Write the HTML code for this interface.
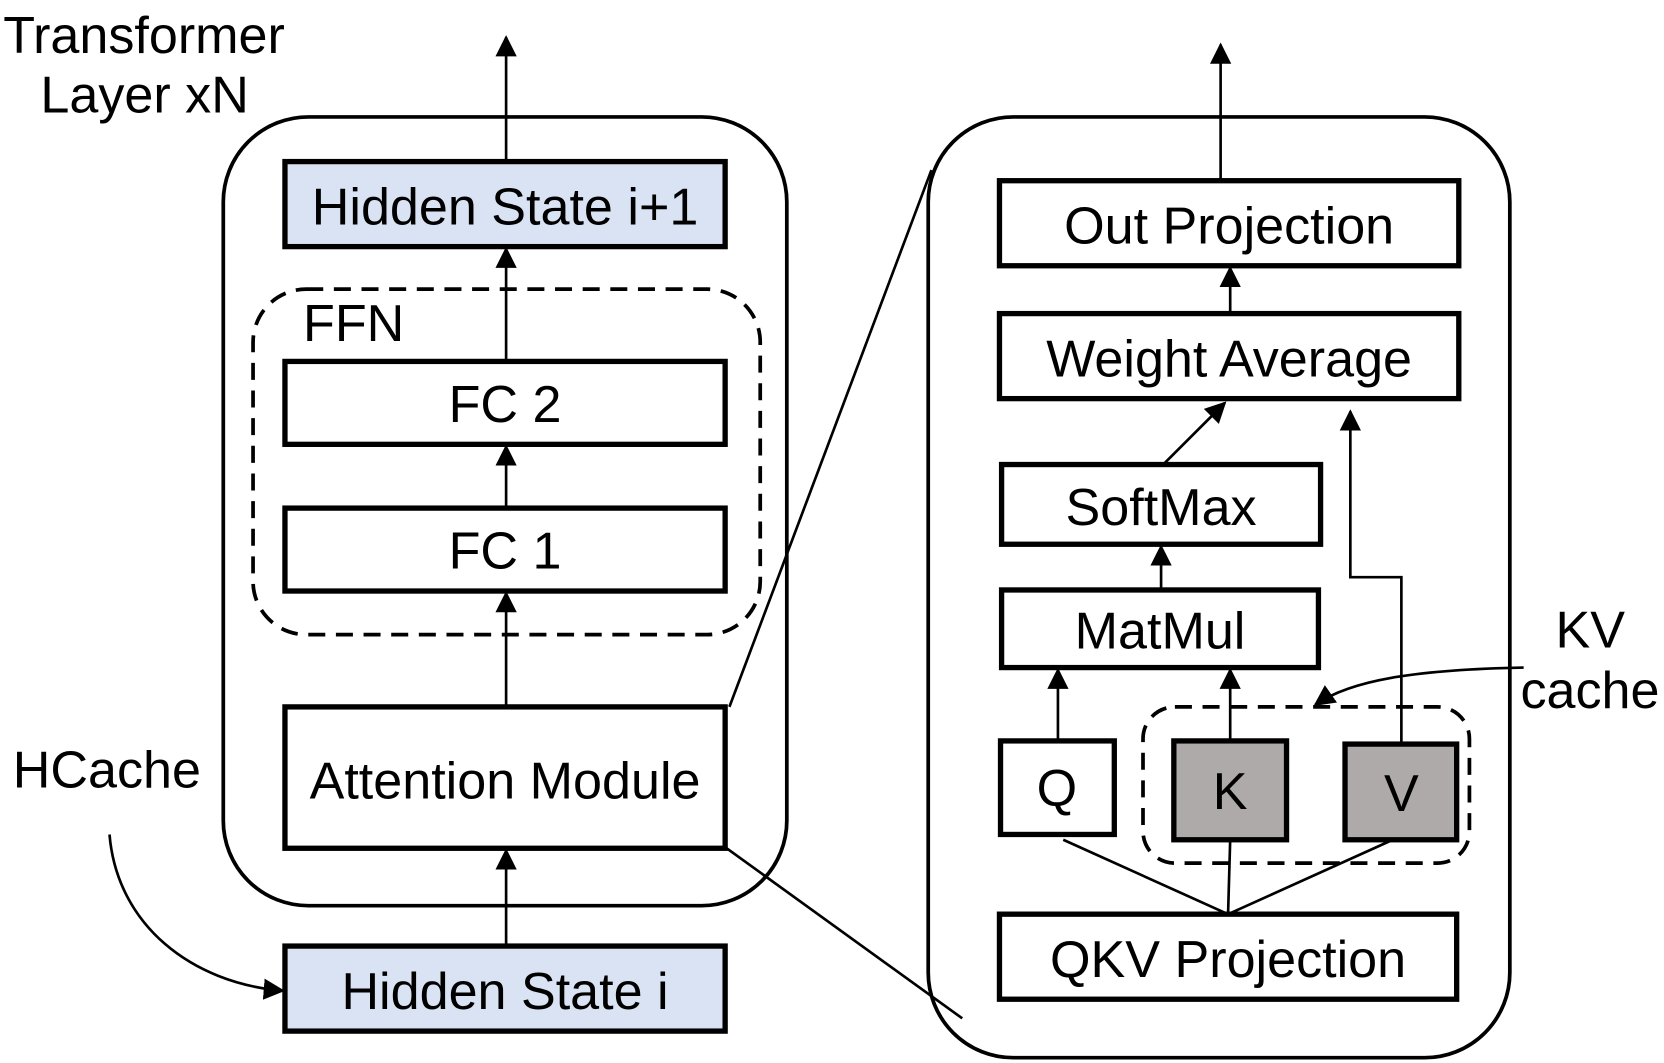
<!DOCTYPE html>
<html><head><style>html,body{margin:0;padding:0;background:#fff}svg{display:block}
text{font-family:"Liberation Sans",Arial,sans-serif}</style></head>
<body>
<svg width="1664" height="1063" viewBox="0 0 1565 1000" preserveAspectRatio="none" xmlns="http://www.w3.org/2000/svg">
<defs>
<marker id="a" markerWidth="20" markerHeight="24" refX="18" refY="10" orient="auto" markerUnits="userSpaceOnUse" viewBox="0 0 20 20"><path d="M0,0 L20,10 L0,20 z" fill="#000"/></marker>
</defs>
<style>
.b{fill:#fff;stroke:#000;stroke-width:5}
.bl{fill:#dae3f3;stroke:#000;stroke-width:5}
.g{fill:#aeaaaa;stroke:#000;stroke-width:5}
.l{stroke:#000;stroke-width:2.5;fill:none}
.t{font-size:49px;text-anchor:middle}
</style>
<text x="3" y="50" font-size="49">Transformer</text>
<text x="38" y="106" font-size="49">Layer xN</text>
<text x="12" y="741" font-size="49">HCache</text>
<text x="1463" y="609" font-size="49">KV</text>
<text x="1430" y="666" font-size="49">cache</text>

<rect x="210" y="110" width="530" height="742" rx="80" fill="none" stroke="#000" stroke-width="3.5"/>
<rect x="873" y="110" width="547" height="885" rx="80" fill="none" stroke="#000" stroke-width="3.5"/>
<rect x="238" y="272" width="477" height="325" rx="50" fill="none" stroke="#000" stroke-width="3.5" stroke-dasharray="16,10"/>
<rect x="1075" y="665" width="307" height="147" rx="30" fill="none" stroke="#000" stroke-width="3.5" stroke-dasharray="16,10"/>
<text x="285" y="321" font-size="49">FFN</text>

<g class="l">
<path d="M476 152 V35" marker-end="url(#a)"/>
<path d="M476 340 V234" marker-end="url(#a)"/>
<path d="M476 478 V420" marker-end="url(#a)"/>
<path d="M476 665 V558" marker-end="url(#a)"/>
<path d="M476 890 V800" marker-end="url(#a)"/>
<path d="M103 785 C110 870 180 925 266 932" marker-end="url(#a)"/>
</g>
<g class="l">
<path d="M686 665 L876 160"/>
<path d="M682 797 L905 958"/>
<path d="M1155 860 L1000 790 M1155 860 L1157 790 M1155 860 L1310 790"/>
</g>
<g class="l">
<path d="M1148 170 V42" marker-end="url(#a)"/>
<path d="M1157 295 V252" marker-end="url(#a)"/>
<path d="M1095 436 L1152 379" marker-end="url(#a)"/>
<path d="M1092 555 V514" marker-end="url(#a)"/>
<path d="M995 697 V630" marker-end="url(#a)"/>
<path d="M1157 697 V630" marker-end="url(#a)"/>
<path d="M1318 700 V543 H1270 V387" marker-end="url(#a)"/>
<path d="M1433 628 C1330 630 1270 640 1237 663" marker-end="url(#a)"/>
</g>

<rect class="bl" x="268" y="152" width="414" height="80"/>
<text class="t" x="475" y="211">Hidden State i+1</text>
<rect class="b" x="268" y="340" width="414" height="78"/>
<text class="t" x="475" y="397">FC 2</text>
<rect class="b" x="268" y="478" width="414" height="78"/>
<text class="t" x="475" y="535">FC 1</text>
<rect class="b" x="268" y="665" width="414" height="133"/>
<text class="t" x="475" y="751">Attention Module</text>
<rect class="bl" x="268" y="890" width="414" height="80"/>
<text class="t" x="475" y="949">Hidden State i</text>

<rect class="b" x="940" y="170" width="432" height="80"/>
<text class="t" x="1156" y="229">Out Projection</text>
<rect class="b" x="940" y="295" width="432" height="80"/>
<text class="t" x="1156" y="354">Weight Average</text>
<rect class="b" x="942" y="437" width="300" height="75"/>
<text class="t" x="1092" y="494">SoftMax</text>
<rect class="b" x="942" y="555" width="298" height="73"/>
<text class="t" x="1091" y="610">MatMul</text>
<rect class="b" x="941" y="697" width="107" height="88"/>
<text class="t" x="994" y="758">Q</text>
<rect class="g" x="1104" y="697" width="106" height="93"/>
<text class="t" x="1157" y="761">K</text>
<rect class="g" x="1265" y="700" width="105" height="90"/>
<text class="t" x="1318" y="763">V</text>
<rect class="b" x="940" y="860" width="430" height="80"/>
<text class="t" x="1155" y="919">QKV Projection</text>
</svg>
</body></html>
